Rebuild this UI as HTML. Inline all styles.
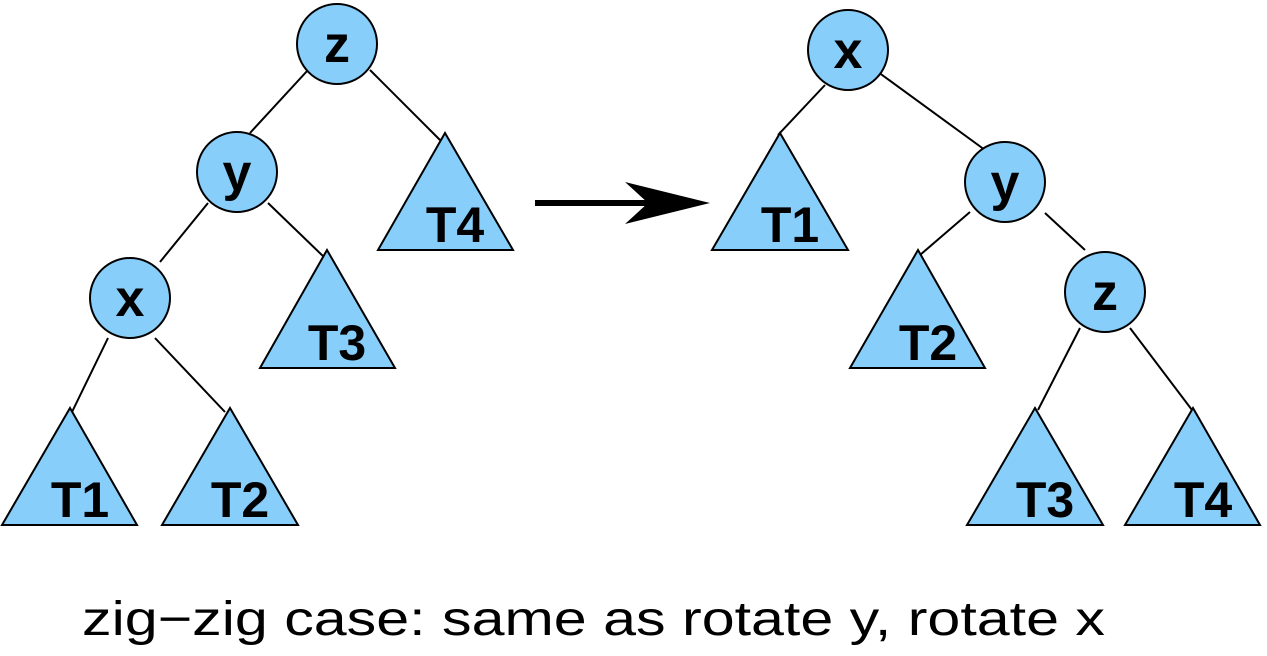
<!DOCTYPE html>
<html><head><meta charset="utf-8"><style>html,body{margin:0;padding:0;background:#fff;}svg{display:block}</style></head><body>
<svg width="1267" height="656" viewBox="0 0 1267 656" xmlns="http://www.w3.org/2000/svg">
<g stroke="#000" stroke-width="2" fill="none">
<line x1="308" y1="70" x2="250" y2="133"/>
<line x1="370" y1="70" x2="440" y2="140"/>
<line x1="208" y1="203" x2="160" y2="262"/>
<line x1="268" y1="203" x2="325" y2="258"/>
<line x1="108" y1="338" x2="72" y2="412"/>
<line x1="155" y1="338" x2="225" y2="412"/>
<line x1="825" y1="85" x2="778" y2="135"/>
<line x1="878" y1="72" x2="985" y2="150"/>
<line x1="970" y1="212" x2="920" y2="255"/>
<line x1="1045" y1="213" x2="1085" y2="250"/>
<line x1="1080" y1="328" x2="1038" y2="410"/>
<line x1="1130" y1="328" x2="1192" y2="410"/>
</g>
<g fill="#87cefa" stroke="#000" stroke-width="2">
<circle cx="337" cy="44" r="40"/>
<circle cx="237" cy="172" r="40"/>
<circle cx="130" cy="298" r="40"/>
<circle cx="848" cy="50" r="40"/>
<circle cx="1005" cy="182" r="40"/>
<circle cx="1105" cy="292" r="40"/>
<polygon points="445,133 378,250 513,250"/>
<polygon points="327,250 260,368 395,368"/>
<polygon points="70,408 2,525 137,525"/>
<polygon points="230,408 162,525 298,525"/>
<polygon points="780,133 712,250 848,250"/>
<polygon points="918,250 850,368 985,368"/>
<polygon points="1035,408 967,525 1103,525"/>
<polygon points="1193,408 1125,525 1260,525"/>
</g>
<line x1="535" y1="203" x2="650" y2="203" stroke="#000" stroke-width="6"/>
<polygon points="710,203 625,182 648,203 625,224" fill="#000"/>
<g font-family="Liberation Sans, sans-serif" font-weight="bold" font-size="52" text-anchor="middle" fill="#000">
<text x="337" y="62">z</text>
<text x="237" y="190">y</text>
<text x="130" y="316">x</text>
<text x="848" y="68">x</text>
<text x="1005" y="200">y</text>
<text x="1105" y="310">z</text>
</g>
<g font-family="Liberation Sans, sans-serif" font-weight="bold" font-size="50" text-anchor="middle" fill="#000">
<text x="455" y="242">T4</text>
<text x="337" y="360">T3</text>
<text x="80" y="517">T1</text>
<text x="240" y="517">T2</text>
<text x="790" y="242">T1</text>
<text x="928" y="360">T2</text>
<text x="1045" y="517">T3</text>
<text x="1203" y="517">T4</text>
</g>
<text x="82" y="635" font-family="Liberation Sans, sans-serif" font-size="48" textLength="1023" lengthAdjust="spacingAndGlyphs" fill="#000">zig−zig case: same as rotate y, rotate x</text>
</svg>
</body></html>
